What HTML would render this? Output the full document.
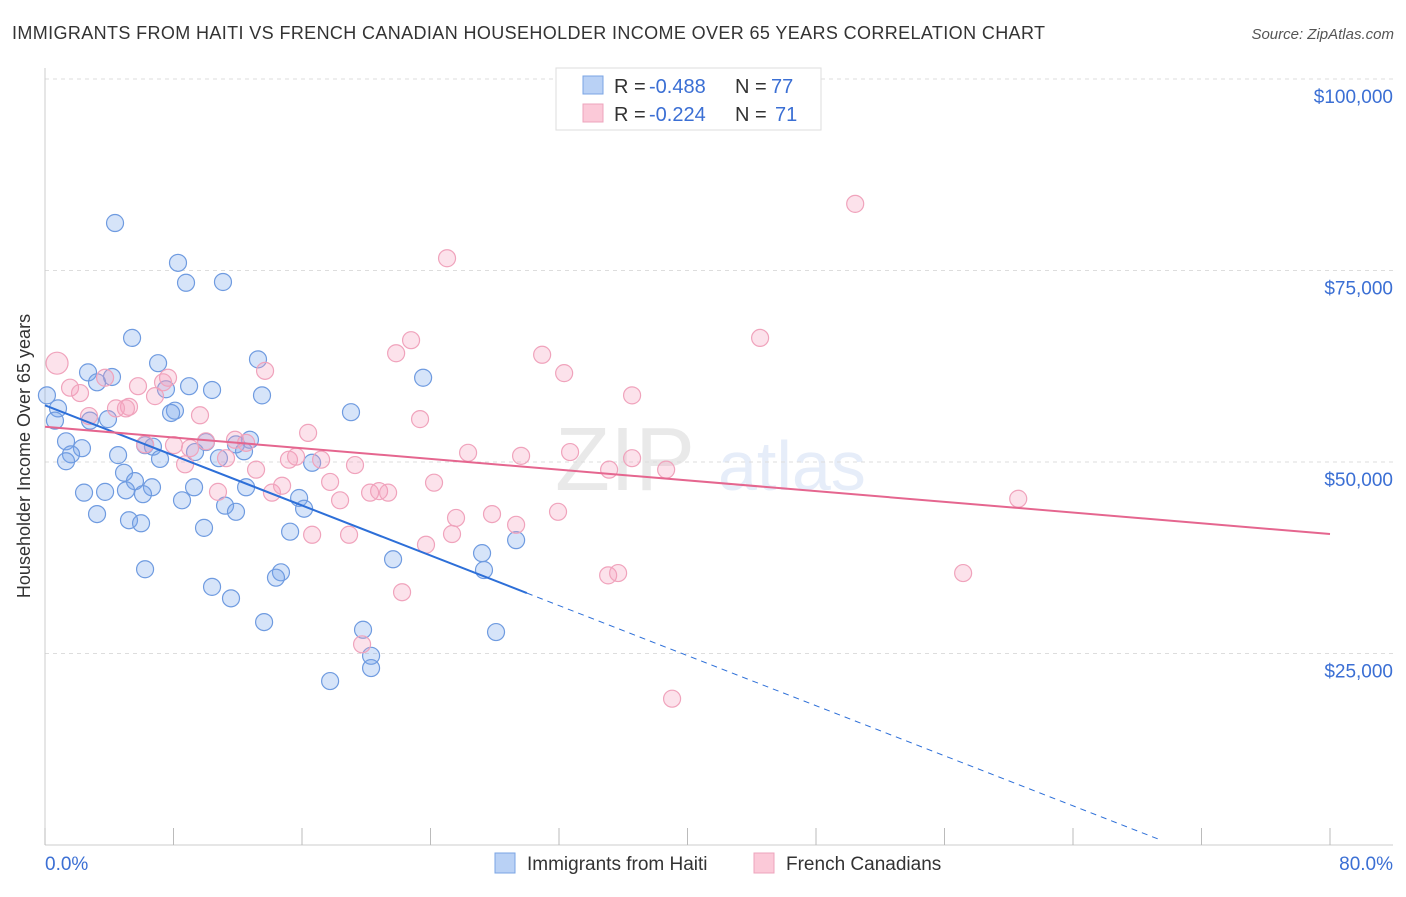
<!DOCTYPE html>
<html><head><meta charset="utf-8">
<style>
body{margin:0;background:#fff;font-family:"Liberation Sans",sans-serif;}
svg text{font-family:"Liberation Sans",sans-serif;}
</style></head>
<body>
<svg id="chart" width="1406" height="892" viewBox="0 0 1406 892" xmlns="http://www.w3.org/2000/svg">
<text x="12" y="39" font-size="18" fill="#333" textLength="1033">IMMIGRANTS FROM HAITI VS FRENCH CANADIAN HOUSEHOLDER INCOME OVER 65 YEARS CORRELATION CHART</text>
<text x="1394" y="39" font-size="15" fill="#555" text-anchor="end" font-style="italic">Source: ZipAtlas.com</text>
<text x="30" y="456" font-size="18" fill="#333" text-anchor="middle" transform="rotate(-90 30 456)">Householder Income Over 65 years</text>
<g opacity="0.12">
<text x="555" y="490" font-size="90" fill="#555" font-family="Liberation Serif">ZIP</text>
<text x="718" y="490" font-size="70" fill="#3b6fd4">atlas</text>
</g>
<g id="grid"></g>
<g id="axes"></g>
<g id="marks"></g>
<g>
<rect x="556" y="68" width="265" height="62" fill="#fff" stroke="#ddd"/>
<rect x="583" y="76" width="20" height="18" fill="#b9d1f5" stroke="#7aa4e4"/>
<rect x="583" y="104" width="20" height="18" fill="#fbc9d8" stroke="#eea4bc"/>
<text x="614" y="93" font-size="20" fill="#333">R =</text>
<text x="649" y="93" font-size="20" fill="#3b6fd4">-0.488</text>
<text x="735" y="93" font-size="20" fill="#333">N =</text>
<text x="771" y="93" font-size="20" fill="#3b6fd4">77</text>
<text x="614" y="121" font-size="20" fill="#333">R =</text>
<text x="649" y="121" font-size="20" fill="#3b6fd4">-0.224</text>
<text x="735" y="121" font-size="20" fill="#333">N =</text>
<text x="775" y="121" font-size="20" fill="#3b6fd4">71</text>
</g>
<g>
<rect x="495" y="853" width="20" height="20" fill="#b9d1f5" stroke="#7aa4e4"/>
<text x="527" y="870" font-size="19" fill="#333">Immigrants from Haiti</text>
<rect x="754" y="853" width="20" height="20" fill="#fbc9d8" stroke="#eea4bc"/>
<text x="786" y="870" font-size="19" fill="#333">French Canadians</text>
</g>
</svg>
<script>
const xTickCount = 10;
const yTicks = [25000, 50000, 75000, 100000];
const yTickLabels = ["$25,000", "$50,000", "$75,000", "$100,000"];
const xLabels = ["0.0%", "80.0%"];
const haitiX = [4.36,8.28,8.78,11.08,5.42,7.04,13.26,2.68,4.17,3.24,8.97,7.53,10.40,13.51,23.54,0.12,0.81,8.09,7.85,19.05,0.62,3.92,2.80,1.31,6.23,6.72,10.02,12.76,11.89,2.30,4.55,1.62,1.31,7.16,9.34,10.83,12.39,16.63,4.92,5.60,6.66,2.43,3.74,5.04,6.10,9.28,12.52,8.53,11.21,11.89,15.82,16.13,3.24,5.23,5.98,9.90,15.26,21.67,27.21,27.33,29.33,6.23,10.40,11.58,14.69,14.38,13.64,19.80,20.30,20.30,28.08,17.75];
const haitiY = [81.2,76.0,73.4,73.5,66.2,62.9,63.4,61.7,61.1,60.4,59.9,59.5,59.4,58.7,61.0,58.7,57.0,56.7,56.4,56.5,55.4,55.6,55.4,52.7,52.2,52.0,52.6,52.9,52.3,51.8,50.9,51.0,50.1,50.4,51.3,50.5,51.4,49.9,48.6,47.5,46.7,46.0,46.1,46.3,45.8,46.7,46.7,45.0,44.3,43.5,45.3,43.9,43.2,42.4,42.0,41.4,40.9,37.3,38.1,35.9,39.8,36.0,33.7,32.2,35.6,34.9,29.1,28.1,24.7,23.1,27.8,21.4];
const frenchX = [50.44,25.03,44.52,22.79,21.86,30.95,32.32,0.75,1.56,3.74,5.23,5.79,7.66,7.35,2.18,6.85,36.55,13.70,23.35,9.65,2.74,16.38,5.04,4.42,10.02,11.83,6.23,12.52,8.03,9.03,32.69,26.34,29.64,11.27,15.19,17.19,15.63,8.72,19.30,35.12,38.67,36.55,13.14,17.75,10.77,14.13,14.76,18.37,20.24,20.80,21.36,24.22,60.59,25.59,27.83,29.33,31.94,16.63,18.93,25.34,23.72,35.06,35.68,57.16,22.23,19.74,39.04];
const frenchY = [83.7,76.6,66.2,65.9,64.2,64.0,61.6,62.9,59.7,61.0,57.2,59.9,61.0,60.4,59.0,58.6,58.7,61.9,55.6,56.1,56.0,53.8,57.0,57.0,52.7,52.9,52.3,52.5,52.2,51.8,51.3,51.2,50.8,50.5,50.3,50.3,50.7,49.7,49.6,49.0,49.0,50.5,49.0,47.4,46.1,46.0,46.9,45.0,46.0,46.2,46.0,47.3,45.2,42.7,43.2,41.8,43.5,40.5,40.5,40.6,39.2,35.2,35.5,35.5,33.0,26.2,19.1];
const haitiTrend = [57.4, -0.817];
const frenchTrend = [54.6, -0.175];

const NS = "http://www.w3.org/2000/svg";
const X0 = 45, X1 = 1330, Y0 = 845, YSCALE = 766;
function sx(v){ return X0 + v/80*(X1-X0); }
function sy(k){ return Y0 - k/100*YSCALE; }
function mk(tag, attrs, parent){
  const e = document.createElementNS(NS, tag);
  for (const k in attrs) e.setAttribute(k, attrs[k]);
  parent.appendChild(e); return e;
}
const gridG = document.getElementById('grid');
const axesG = document.getElementById('axes');
const marksG = document.getElementById('marks');
yTicks.forEach((t,i)=>{
  const y = sy(t/1000);
  const l = mk('line',{x1:45,x2:1393,y1:y,y2:y,stroke:'#ddd','stroke-dasharray':'4,4'},gridG);
  
  
  const tx = mk('text',{x:1393,y:y+24,'font-size':19,fill:'#3b6fd4','text-anchor':'end'},axesG);
  tx.textContent = yTickLabels[i];
  
  
});
const topGrid = mk('line',{x1:45,x2:1393,y1:79,y2:79,stroke:'#ddd','stroke-dasharray':'4,4'},gridG);


const ya = mk('line',{x1:45,x2:45,y1:68,y2:845,stroke:'#ccc'},axesG);


const xa = mk('line',{x1:45,x2:1393,y1:845,y2:845,stroke:'#ccc'},axesG);


for (let i=0;i<=xTickCount;i++){
  const x = sx(i*80/xTickCount);
  const t = mk('line',{x1:x,x2:x,y1:828,y2:845,stroke:'#bbb'},axesG);
  
  
}
const xl0 = mk('text',{x:45,y:870,'font-size':19,fill:'#3b6fd4'},axesG);
xl0.textContent = xLabels[0];


const xl1 = mk('text',{x:1393,y:870,'font-size':19,fill:'#3b6fd4','text-anchor':'end'},axesG);
xl1.textContent = xLabels[1];



haitiX.forEach((v,i)=>{
  const c = mk('circle',{cx:sx(v),cy:sy(haitiY[i]),r:8.5,fill:'rgba(120,165,235,0.3)',stroke:'#6f9be0','stroke-width':1.2},marksG);
  
  
});
frenchX.forEach((v,i)=>{
  const c = mk('circle',{cx:sx(v),cy:sy(frenchY[i]),r:i===7?11:8.5,fill:'rgba(245,160,190,0.3)',stroke:'#f0a3bc','stroke-width':1.2},marksG);
  
  
});
const hx1 = 30, hx2 = 69.4;
const ht1 = mk('line',{x1:sx(0),y1:sy(haitiTrend[0]),x2:sx(hx1),y2:sy(haitiTrend[0]+haitiTrend[1]*hx1),stroke:'#2d6fd8','stroke-width':2},marksG);


const ht2 = mk('line',{x1:sx(hx1),y1:sy(haitiTrend[0]+haitiTrend[1]*hx1),x2:sx(hx2),y2:sy(haitiTrend[0]+haitiTrend[1]*hx2),stroke:'#2d6fd8','stroke-width':1,'stroke-dasharray':'6,5'},marksG);


const ft = mk('line',{x1:sx(0),y1:sy(frenchTrend[0]),x2:sx(80),y2:sy(frenchTrend[0]+frenchTrend[1]*80),stroke:'#e5668f','stroke-width':2},marksG);


</script>
</body></html>
